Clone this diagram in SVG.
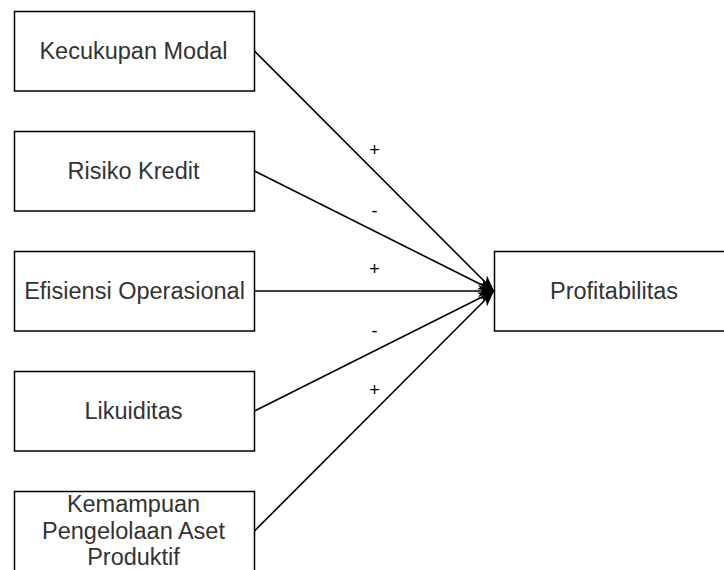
<svg xmlns="http://www.w3.org/2000/svg" width="724" height="570" viewBox="0 0 724 570">
  <style>
    .box { fill: #ffffff; stroke: #000000; stroke-width: 1.5; }
    .txt { font-family: "Liberation Sans", Arial, sans-serif; font-size: 23.5px; fill: #333333; text-anchor: middle; }
    .edge { fill: none; stroke: #000000; stroke-width: 1.6; marker-end: url(#arrow); }
    .lbl { font-family: "Liberation Sans", Arial, sans-serif; font-size: 18px; fill: #000000; text-anchor: middle; }
  </style>
  <defs>
    <marker id="arrow" markerUnits="userSpaceOnUse" markerWidth="18" markerHeight="14" refX="16" refY="7" orient="auto">
      <path d="M0,1 L16,7 L0,13 L4.5,7 Z" fill="#000000"/>
    </marker>
  </defs>
  <rect width="724" height="570" fill="#ffffff"/>

  <g id="connectors">
    <path class="edge" d="M254.5,51 L494,291"/>
    <path class="edge" d="M254.5,171 L494,291"/>
    <path class="edge" d="M254.5,291 L494,291"/>
    <path class="edge" d="M254.5,411 L494,291"/>
    <path class="edge" d="M254.5,531 L494,291"/>
    <text class="lbl" x="374.5" y="155.5">+</text>
    <text class="lbl" x="374.5" y="216.5">-</text>
    <text class="lbl" x="374.5" y="274.5">+</text>
    <text class="lbl" x="374.5" y="336.5">-</text>
    <text class="lbl" x="374.5" y="395.5">+</text>
  </g>

  <g id="kecukupan-modal">
    <rect class="box" x="14.5" y="11.5" width="240" height="79.5"/>
    <text class="txt" x="133.5" y="59">Kecukupan Modal</text>
  </g>
  <g id="risiko-kredit">
    <rect class="box" x="14.5" y="131.5" width="240" height="79.5"/>
    <text class="txt" x="133.5" y="179">Risiko Kredit</text>
  </g>
  <g id="efisiensi-operasional">
    <rect class="box" x="14.5" y="251.5" width="240" height="79.5"/>
    <text class="txt" x="134.5" y="299">Efisiensi Operasional</text>
  </g>
  <g id="likuiditas">
    <rect class="box" x="14.5" y="371.5" width="240" height="79.5"/>
    <text class="txt" x="133.5" y="419">Likuiditas</text>
  </g>
  <g id="kemampuan-pengelolaan">
    <rect class="box" x="14.5" y="491.5" width="240" height="79.5"/>
    <text class="txt" x="133.5" y="512">Kemampuan</text>
    <text class="txt" x="133.5" y="538.5">Pengelolaan Aset</text>
    <text class="txt" x="133.5" y="565">Produktif</text>
  </g>
  <g id="profitabilitas">
    <rect class="box" x="494.5" y="251.5" width="240" height="79.5"/>
    <text class="txt" x="614" y="299">Profitabilitas</text>
  </g>
</svg>
